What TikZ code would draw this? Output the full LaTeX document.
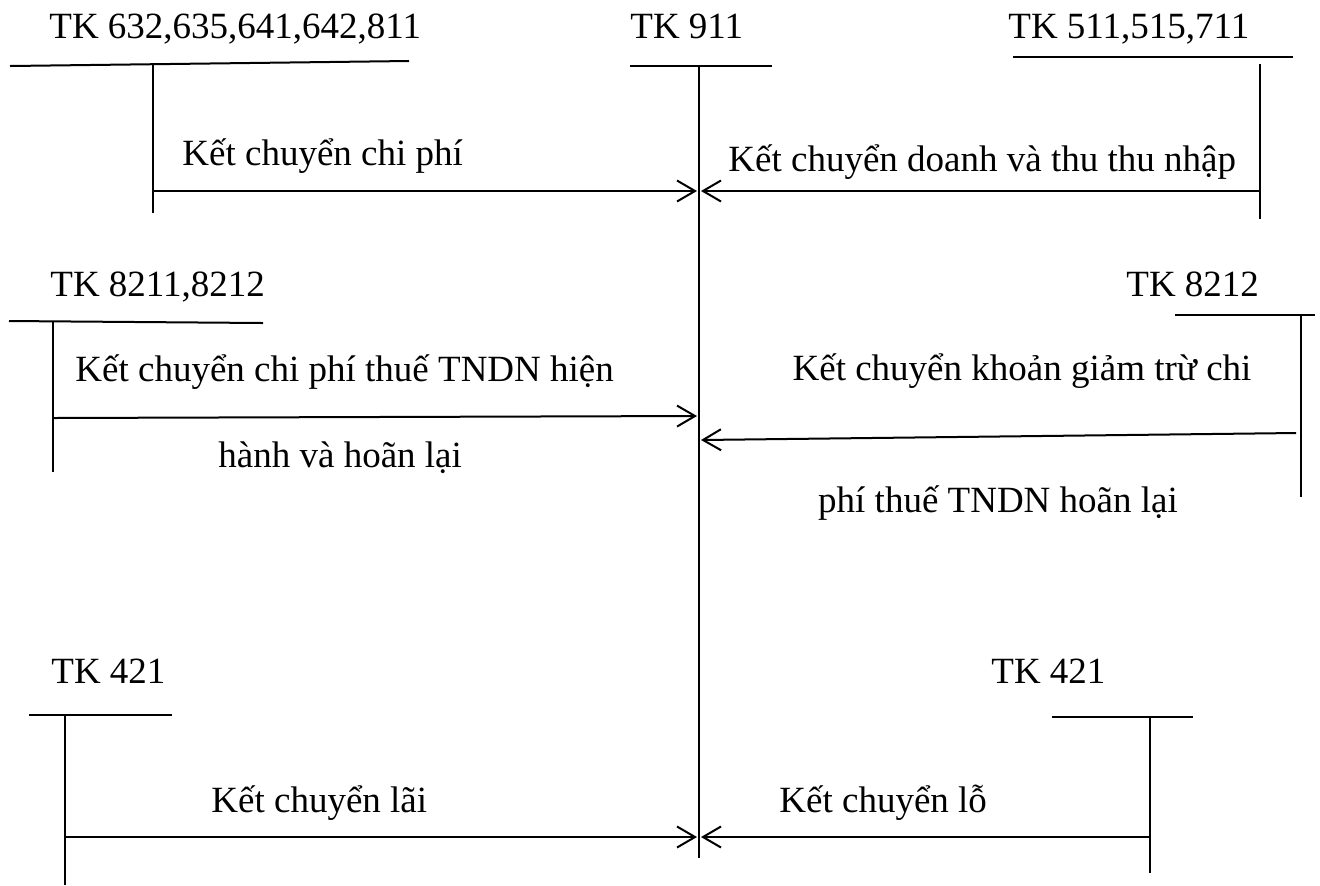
\documentclass[tikz,border=0pt]{standalone}
\usepackage{fontspec}
\setmainfont{Liberation Serif}
\usetikzlibrary{arrows.meta}
\begin{document}
\begin{tikzpicture}[x=0.5pt,y=-0.5pt,
  acct/.style={line width=1pt},
  flow/.style={line width=1pt,-{Straight Barb[length=9pt,width=10.5pt,line width=1pt]}},
  lbl/.style={anchor=base west,inner sep=0pt,font=\fontsize{18.5}{22}\selectfont},
  lblc/.style={anchor=base,inner sep=0pt,font=\fontsize{18.5}{22}\selectfont}]
\useasboundingbox (0,0) rectangle (1320,885);

% account titles
\node[lbl] (tkA) at (49,38) {TK 632,635,641,642,811};
\node[lbl] (tk911) at (630,38) {TK 911};
\node[lbl] (tkB) at (1008,38) {TK 511,515,711};
\node[lbl] (tkC) at (50,296) {TK 8211,8212};
\node[lbl] (tkD) at (1126,296) {TK 8212};
\node[lbl] (tkE) at (51,683) {TK 421};
\node[lbl] (tkF) at (991,683) {TK 421};

% T-account of 911
\coordinate (m1) at (630,66); \coordinate (m2) at (772,66);
\coordinate (mt) at (699,66); \coordinate (mb) at (699,858);
\draw[acct] (m1) -- (m2); \draw[acct] (mt) -- (mb);
\coordinate (inA) at (697,191); \coordinate (inB) at (701,191);
\coordinate (inC) at (697,416); \coordinate (inD) at (701,440);
\coordinate (inE) at (697,837); \coordinate (inF) at (701,837);

% TK 632,...
\coordinate (a1) at (10,66); \coordinate (a2) at (409,61);
\coordinate (at) at (153,65); \coordinate (ab) at (153,213);
\coordinate (ao) at (153,191);
\draw[acct] (a1) -- (a2); \draw[acct] (at) -- (ab);
\draw[flow] (ao) -- (inA);
\node[lbl] (la) at (182,165) {Kết chuyển chi phí};

% TK 511,515,711
\coordinate (b1) at (1013,57); \coordinate (b2) at (1293,57);
\coordinate (bt) at (1260,64); \coordinate (bb) at (1260,219);
\coordinate (bo) at (1260,191);
\draw[acct] (b1) -- (b2); \draw[acct] (bt) -- (bb);
\draw[flow] (bo) -- (inB);
\node[lbl] (lb) at (728,171) {Kết chuyển doanh và thu thu nhập};

% TK 8211,8212
\coordinate (c1) at (9,321); \coordinate (c2) at (263,323);
\coordinate (ct) at (53,322); \coordinate (cb) at (53,472);
\coordinate (co) at (53,418);
\draw[acct] (c1) -- (c2); \draw[acct] (ct) -- (cb);
\draw[flow] (co) -- (inC);
\node[lbl] (lc1) at (75,381) {Kết chuyển chi phí thuế TNDN hiện};
\node[lbl] (lc2) at (218,467) {hành và hoãn lại};

% TK 8212
\coordinate (d1) at (1175,315); \coordinate (d2) at (1315,315);
\coordinate (dt) at (1301,315); \coordinate (db) at (1301,497);
\coordinate (do) at (1296,433);
\draw[acct] (d1) -- (d2); \draw[acct] (dt) -- (db);
\draw[flow] (do) -- (inD);
\node[lblc] (ld1) at (1022,380) {Kết chuyển khoản giảm trừ chi};
\node[lblc] (ld2) at (998,512) {phí thuế TNDN hoãn lại};

% TK 421 (left)
\coordinate (e1) at (29,715); \coordinate (e2) at (172,715);
\coordinate (et) at (65,715); \coordinate (eb) at (65,885);
\coordinate (eo) at (65,837);
\draw[acct] (e1) -- (e2); \draw[acct] (et) -- (eb);
\draw[flow] (eo) -- (inE);
\node[lbl] (le) at (211,812) {Kết chuyển lãi};

% TK 421 (right)
\coordinate (f1) at (1052,717); \coordinate (f2) at (1193,717);
\coordinate (ft) at (1150,717); \coordinate (fb) at (1150,873);
\coordinate (fo) at (1150,837);
\draw[acct] (f1) -- (f2); \draw[acct] (ft) -- (fb);
\draw[flow] (fo) -- (inF);
\node[lbl] (lf) at (779,812) {Kết chuyển lỗ};
\end{tikzpicture}
\end{document}
